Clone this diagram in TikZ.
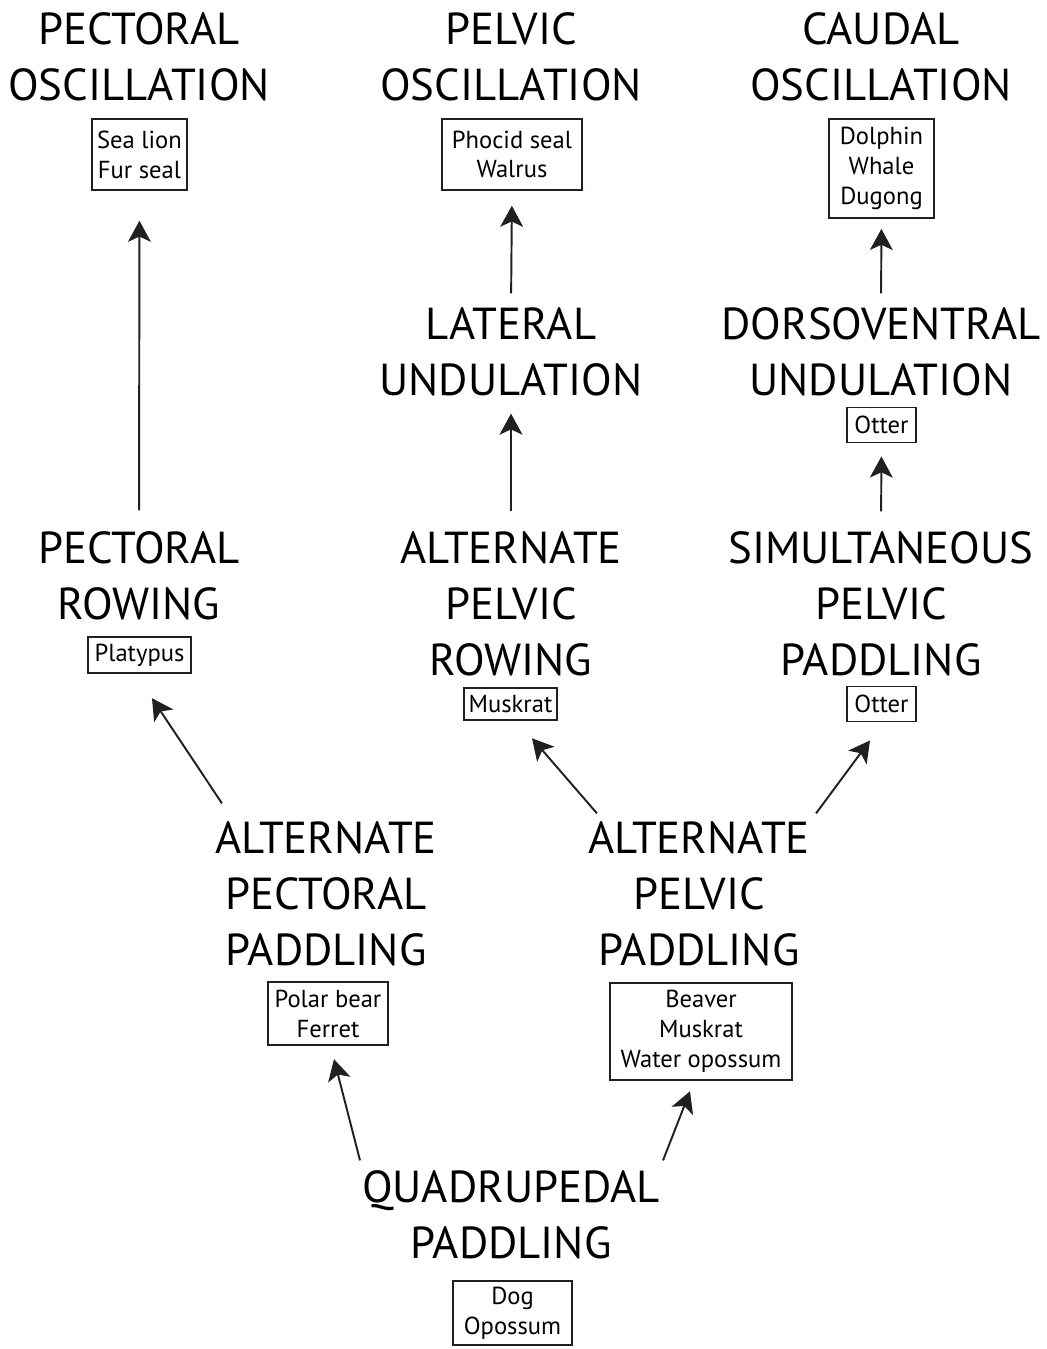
\documentclass[tikz,border=0pt]{standalone}
\usepackage{fontspec}
\setmainfont{PT Sans}
\usetikzlibrary{arrows.meta, positioning}
\definecolor{inkgray}{RGB}{35,31,32}

\tikzset{
	stage/.style={align=center, inner sep=0pt, font=\fontsize{25.5}{31.9}\selectfont},
	species/.style={draw=inkgray, line width=1.1pt, align=center, inner xsep=3.7pt, inner ysep=4.4pt,
		font=\fontsize{14}{17}\selectfont},
	evo/.style={-{Stealth[length=12pt, width=13pt, inset=3pt]}, draw=inkgray, line width=1.1pt},
}

\begin{document}
\begin{tikzpicture}[x=0.02cm, y=-0.02cm]
	\useasboundingbox (0,0) rectangle (1046,1349);

	% top row
	\node[stage] (pectosc) at (139,57) {PECTORAL\\OSCILLATION};
	\node[species, inner xsep=3.1pt, inner ysep=6.5pt] (sealion) at (139.5,154.5) {Sea lion\\Fur seal};
	\node[stage] (pelvosc) at (511,57) {PELVIC\\OSCILLATION};
	\node[species, inner xsep=5.4pt, inner ysep=6.5pt] (phocid) at (512,154.5) {Phocid seal\\Walrus};
	\node[stage] (caudosc) at (881,57) {CAUDAL\\OSCILLATION};
	\node[species, inner xsep=6pt, inner ysep=4.7pt] (dolphin) at (881.5,168.5) {Dolphin\\Whale\\Dugong};

	% undulation
	\node[stage] (lateral) at (511,352) {LATERAL\\UNDULATION};
	\node[stage] (dorso) at (881,352) {DORSOVENTRAL\\UNDULATION};
	\node[species, inner xsep=4.2pt, inner ysep=4.9pt] (otterup) at (881.5,425) {Otter};

	% rowing
	\node[stage] (pectrow) at (139,576) {PECTORAL\\ROWING};
	\node[species, inner ysep=4pt] (platypus) at (139.5,655) {Platypus};
	\node[stage] (altpelrow) at (511,604) {ALTERNATE\\PELVIC\\ROWING};
	\node[species, inner xsep=2.6pt, inner ysep=4.3pt] (muskrat) at (510.5,704) {Muskrat};
	\node[stage] (simpelpad) at (881,604) {SIMULTANEOUS\\PELVIC\\PADDLING};
	\node[species, inner xsep=4.2pt, inner ysep=4.9pt] (otterlow) at (881.5,704) {Otter};

	% paddling
	\node[stage] (altpectpad) at (326,894) {ALTERNATE\\PECTORAL\\PADDLING};
	\node[species, inner ysep=4.5pt] (polar) at (328,1013.5) {Polar bear\\Ferret};
	\node[stage] (altpelpad) at (699,894) {ALTERNATE\\PELVIC\\PADDLING};
	\node[species, inner xsep=6pt] (beaver) at (701,1031.5) {Beaver\\Muskrat\\Water opossum};

	\node[stage] (quad) at (511,1215) {QUADRUPEDAL\\PADDLING};
	\node[species, inner xsep=6.2pt, inner ysep=3.3pt] (dog) at (512.5,1313) {Dog\\Opossum};

	% arrows
	\draw[evo, shorten <=0.42cm, shorten >=0.6cm] (pectrow.north) -- (sealion.south);
	\draw[evo, shorten <=0.28cm, shorten >=0.3cm] (lateral.north) -- (phocid.south);
	\draw[evo, shorten <=0.4cm, shorten >=0.34cm] (altpelrow.north) -- (lateral.south);
	\draw[evo, shorten <=0.28cm, shorten >=0.2cm] (dorso.north) -- (dolphin.south);
	\draw[evo, shorten <=0.4cm, shorten >=0.26cm] (simpelpad.north) -- (otterup.south);
	\draw[evo] ([shift={(-104,-18)}]altpectpad.north) -- ([shift={(12.5,24)}]platypus.south);
	\draw[evo] ([shift={(-102,-8)}]altpelpad.north) -- ([shift={(21.5,17)}]muskrat.south);
	\draw[evo] ([shift={(117,-8)}]altpelpad.north) -- ([shift={(-11.5,18)}]otterlow.south);
	\draw[evo] ([shift={(-151,-10)}]quad.north) -- ([shift={(6,13)}]polar.south);
	\draw[evo] ([shift={(152,-10)}]quad.north) -- ([shift={(-11,10)}]beaver.south);
\end{tikzpicture}
\end{document}
